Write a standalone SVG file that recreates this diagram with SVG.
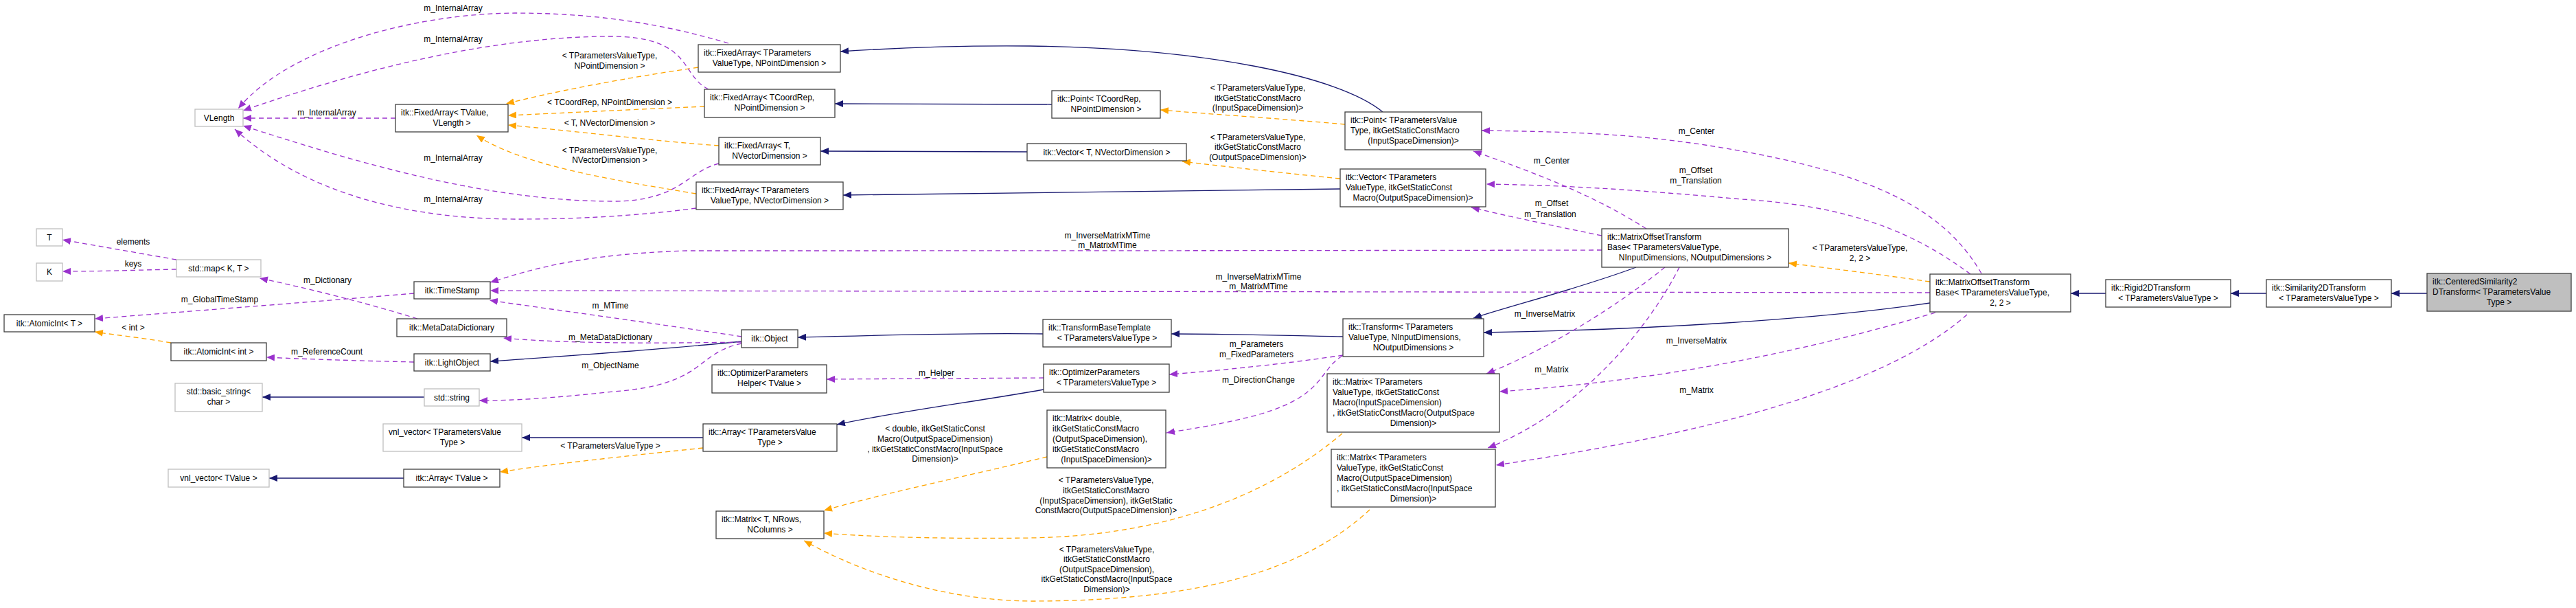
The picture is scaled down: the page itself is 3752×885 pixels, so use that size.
<svg xmlns="http://www.w3.org/2000/svg" width="3752" height="885" viewBox="0 0 3752 885">
<style>
text{font-family:"Liberation Sans",Arial,sans-serif;font-size:12px;fill:#000}
.c{text-anchor:middle}
.nd{fill:#fff;stroke:#404040;stroke-width:1.3}
.ug{fill:#fff;stroke:#bfbfbf;stroke-width:1.3}
.me{fill:#bfbfbf;stroke:#404040;stroke-width:1.3}
.inh{fill:none;stroke:#191970;stroke-width:1.3}
.tpl{fill:none;stroke:#ffa500;stroke-width:1.3;stroke-dasharray:7,5}
.use{fill:none;stroke:#9a32cd;stroke-width:1.3;stroke-dasharray:7,5}
.inh{marker-end:url(#aN)}
.tpl{marker-end:url(#aO)}
.use{marker-end:url(#aP)}
</style>
<defs>
<marker id="aN" markerUnits="userSpaceOnUse" markerWidth="12" markerHeight="10" refX="12" refY="5" orient="auto"><path d="M0,0 L12,5 L0,10 z" fill="#191970"/></marker>
<marker id="aO" markerUnits="userSpaceOnUse" markerWidth="12" markerHeight="10" refX="12" refY="5" orient="auto"><path d="M0,0 L12,5 L0,10 z" fill="#ffa500"/></marker>
<marker id="aP" markerUnits="userSpaceOnUse" markerWidth="12" markerHeight="10" refX="12" refY="5" orient="auto"><path d="M0,0 L12,5 L0,10 z" fill="#9a32cd"/></marker>
</defs>
<rect width="3752" height="885" fill="#fff"/>
<g id="connectors">
<path class="inh" d="M3535,427 L3483,427"/>
<path class="inh" d="M3301,427 L3249,427"/>
<path class="inh" d="M3067,427 L3016,427"/>
<path class="inh" d="M2811,441 C2650,465 2400,480 2161,484"/>
<path class="inh" d="M2383,389 C2300,420 2200,445 2146,463"/>
<path class="inh" d="M1956,490 C1850,488 1780,486 1706,486"/>
<path class="inh" d="M1519,486 C1400,484 1250,489 1162,491"/>
<path class="inh" d="M1080,497 C950,510 800,520 714,526"/>
<path class="inh" d="M1520,567 C1420,585 1300,600 1219,618"/>
<path class="inh" d="M1024,637 L760,637"/>
<path class="inh" d="M588,696 L392,696"/>
<path class="inh" d="M618,578 L382,578"/>
<path class="inh" d="M2014,163 C1950,110 1750,70 1500,67 C1400,66 1300,70 1224,75"/>
<path class="inh" d="M1532,152 C1400,151 1300,151 1216,151"/>
<path class="inh" d="M1496,221 C1400,221 1300,220 1195,220"/>
<path class="inh" d="M1952,275 C1700,278 1450,280 1228,284"/>
<path class="tpl" d="M1017,98 C900,115 800,135 737,151"/>
<path class="tpl" d="M1026,155 C930,159 830,164 740,168"/>
<path class="tpl" d="M1047,212 C950,205 830,190 740,182"/>
<path class="tpl" d="M1014,282 C880,260 760,240 694,197"/>
<path class="tpl" d="M1959,181 C1870,173 1760,166 1690,160"/>
<path class="tpl" d="M1952,260 C1870,252 1790,243 1722,235"/>
<path class="tpl" d="M2811,410 C2740,400 2670,391 2605,383"/>
<path class="tpl" d="M249,499 C210,492 170,488 138,483"/>
<path class="tpl" d="M1024,652 C900,665 800,676 728,687"/>
<path class="tpl" d="M1525,665 C1420,690 1280,720 1200,743"/>
<path class="tpl" d="M1955,631 C1850,720 1700,780 1500,783 C1350,785 1250,780 1200,776"/>
<path class="tpl" d="M1995,742 C1900,830 1750,875 1500,875 C1350,873 1230,820 1171,787"/>
<path class="use" d="M1061,63 C950,30 850,19 750,19 C600,20 420,70 347,158"/>
<path class="use" d="M1032,130 C990,110 1010,53 889,53 C700,53 500,110 354,161"/>
<path class="use" d="M576,172 L354,172"/>
<path class="use" d="M1047,238 C1000,250 990,293 893,293 C700,293 500,230 354,183"/>
<path class="use" d="M1014,303 C900,318 800,319 750,319 C550,318 420,260 342,188"/>
<path class="use" d="M257,378 L91,349"/>
<path class="use" d="M257,392 C200,393 150,395 91,395"/>
<path class="use" d="M608,464 C530,440 450,420 378,405"/>
<path class="use" d="M603,427 C450,440 250,455 138,464"/>
<path class="use" d="M603,527 C520,525 450,523 388,520"/>
<path class="use" d="M1080,490 C950,470 800,450 713,437"/>
<path class="use" d="M1080,498 C950,500 820,500 733,492"/>
<path class="use" d="M1080,500 C1010,515 1030,560 893,570 C800,580 750,583 698,583"/>
<path class="use" d="M1520,550 L1204,552"/>
<path class="use" d="M1956,517 C1870,530 1770,540 1703,545"/>
<path class="use" d="M1955,518 C1920,540 1930,575 1835,603 C1780,618 1730,625 1699,630"/>
<path class="use" d="M2333,364 C1800,365 1300,365 1000,365 C850,370 780,390 714,411"/>
<path class="use" d="M2811,426 L714,423"/>
<path class="use" d="M2398,333 C2330,290 2260,260 2146,220"/>
<path class="use" d="M2333,343 C2270,330 2220,320 2143,302"/>
<path class="use" d="M2886,398 C2840,320 2760,260 2537,220 C2400,195 2300,192 2158,190"/>
<path class="use" d="M2870,399 C2790,340 2700,300 2537,290 C2400,278 2300,270 2165,268"/>
<path class="use" d="M2425,389 C2350,450 2250,510 2165,544"/>
<path class="use" d="M2446,389 C2400,480 2300,600 2167,652"/>
<path class="use" d="M2819,455 C2600,520 2400,555 2184,570"/>
<path class="use" d="M2865,458 C2750,560 2500,630 2179,677"/>
</g>
<g id="labels">
<text class="c" x="660" y="16">m_InternalArray</text>
<text class="c" x="660" y="61">m_InternalArray</text>
<text class="c" x="476" y="168">m_InternalArray</text>
<text class="c" x="660" y="234">m_InternalArray</text>
<text class="c" x="660" y="294">m_InternalArray</text>
<text class="c" x="194" y="356">elements</text>
<text class="c" x="194" y="388">keys</text>
<text class="c" x="477" y="412">m_Dictionary</text>
<text class="c" x="320" y="440">m_GlobalTimeStamp</text>
<text class="c" x="194" y="481">&lt; int &gt;</text>
<text class="c" x="476" y="516">m_ReferenceCount</text>
<text class="c" x="889" y="449">m_MTime</text>
<text class="c" x="889" y="495">m_MetaDataDictionary</text>
<text class="c" x="889" y="536">m_ObjectName</text>
<text class="c" x="1364" y="547">m_Helper</text>
<text class="c" x="889" y="653">&lt; TParametersValueType &gt;</text>
<text class="c" x="888" y="85">&lt; TParametersValueType,</text>
<text class="c" x="888" y="100">NPointDimension &gt;</text>
<text class="c" x="888" y="153">&lt; TCoordRep, NPointDimension &gt;</text>
<text class="c" x="888" y="183">&lt; T, NVectorDimension &gt;</text>
<text class="c" x="888" y="223">&lt; TParametersValueType,</text>
<text class="c" x="888" y="237">NVectorDimension &gt;</text>
<text class="c" x="1362" y="628">&lt; double, itkGetStaticConst</text>
<text class="c" x="1362" y="643">Macro(OutputSpaceDimension)</text>
<text class="c" x="1362" y="658">, itkGetStaticConstMacro(InputSpace</text>
<text class="c" x="1362" y="672">Dimension)&gt;</text>
<text class="c" x="1611" y="703">&lt; TParametersValueType,</text>
<text class="c" x="1611" y="718">itkGetStaticConstMacro</text>
<text class="c" x="1611" y="733">(InputSpaceDimension), itkGetStatic</text>
<text class="c" x="1611" y="747">ConstMacro(OutputSpaceDimension)&gt;</text>
<text class="c" x="1612" y="804">&lt; TParametersValueType,</text>
<text class="c" x="1612" y="818">itkGetStaticConstMacro</text>
<text class="c" x="1612" y="833">(OutputSpaceDimension),</text>
<text class="c" x="1612" y="847">itkGetStaticConstMacro(InputSpace</text>
<text class="c" x="1612" y="862">Dimension)&gt;</text>
<text class="c" x="1830" y="505">m_Parameters</text>
<text class="c" x="1830" y="520">m_FixedParameters</text>
<text class="c" x="1833" y="557">m_DirectionChange</text>
<text class="c" x="1832" y="132">&lt; TParametersValueType,</text>
<text class="c" x="1832" y="147">itkGetStaticConstMacro</text>
<text class="c" x="1832" y="161">(InputSpaceDimension)&gt;</text>
<text class="c" x="1832" y="204">&lt; TParametersValueType,</text>
<text class="c" x="1832" y="218">itkGetStaticConstMacro</text>
<text class="c" x="1832" y="233">(OutputSpaceDimension)&gt;</text>
<text class="c" x="1613" y="347">m_InverseMatrixMTime</text>
<text class="c" x="1613" y="361">m_MatrixMTime</text>
<text class="c" x="1833" y="407">m_InverseMatrixMTime</text>
<text class="c" x="1833" y="421">m_MatrixMTime</text>
<text class="c" x="2471" y="195">m_Center</text>
<text class="c" x="2260" y="238">m_Center</text>
<text class="c" x="2260" y="300">m_Offset</text>
<text class="c" x="2258" y="316">m_Translation</text>
<text class="c" x="2470" y="252">m_Offset</text>
<text class="c" x="2470" y="267">m_Translation</text>
<text class="c" x="2709" y="365">&lt; TParametersValueType,</text>
<text class="c" x="2709" y="380">2, 2 &gt;</text>
<text class="c" x="2250" y="461">m_InverseMatrix</text>
<text class="c" x="2260" y="542">m_Matrix</text>
<text class="c" x="2471" y="500">m_InverseMatrix</text>
<text class="c" x="2471" y="572">m_Matrix</text>
</g>
<g id="n1"><rect class="ug" x="284" y="159" width="70" height="25"/><text class="c" x="319" y="176">VLength</text></g>
<g id="n2"><rect class="nd" x="576" y="152" width="164" height="40"/><text x="584" y="168">itk::FixedArray&lt; TValue,</text><text class="c" x="658" y="183">VLength &gt;</text></g>
<g id="n3"><rect class="ug" x="53" y="333" width="38" height="25"/><text class="c" x="72" y="350">T</text></g>
<g id="n4"><rect class="ug" x="53" y="383" width="38" height="26"/><text class="c" x="72" y="400">K</text></g>
<g id="n5"><rect class="ug" x="257" y="378" width="123" height="25"/><text class="c" x="318.5" y="395">std::map&lt; K, T &gt;</text></g>
<g id="n6"><rect class="nd" x="603" y="410" width="111" height="25"/><text class="c" x="658.5" y="427">itk::TimeStamp</text></g>
<g id="n7"><rect class="nd" x="6" y="458" width="132" height="25"/><text class="c" x="72" y="475">itk::AtomicInt&lt; T &gt;</text></g>
<g id="n8"><rect class="nd" x="578" y="464" width="160" height="26"/><text class="c" x="658" y="481">itk::MetaDataDictionary</text></g>
<g id="n9"><rect class="nd" x="249" y="499" width="139" height="26"/><text class="c" x="318.5" y="516">itk::AtomicInt&lt; int &gt;</text></g>
<g id="n10"><rect class="nd" x="603" y="515" width="111" height="25"/><text class="c" x="658.5" y="532">itk::LightObject</text></g>
<g id="n11"><rect class="ug" x="255" y="558" width="127" height="41"/><text class="c" x="318.5" y="574">std::basic_string&lt;</text><text class="c" x="318.5" y="589">char &gt;</text></g>
<g id="n12"><rect class="ug" x="618" y="566" width="80" height="25"/><text class="c" x="658" y="583">std::string</text></g>
<g id="n13"><rect class="ug" x="558" y="617" width="202" height="40"/><text x="566" y="633">vnl_vector&lt; TParametersValue</text><text class="c" x="659" y="648">Type &gt;</text></g>
<g id="n14"><rect class="ug" x="245" y="683" width="147" height="26"/><text class="c" x="318.5" y="700">vnl_vector&lt; TValue &gt;</text></g>
<g id="n15"><rect class="nd" x="588" y="683" width="140" height="26"/><text class="c" x="658" y="700">itk::Array&lt; TValue &gt;</text></g>
<g id="n16"><rect class="nd" x="1017" y="65" width="207" height="40"/><text x="1025" y="81">itk::FixedArray&lt; TParameters</text><text class="c" x="1120.5" y="96">ValueType, NPointDimension &gt;</text></g>
<g id="n17"><rect class="nd" x="1026" y="130" width="190" height="41"/><text x="1034" y="146">itk::FixedArray&lt; TCoordRep,</text><text class="c" x="1121" y="161">NPointDimension &gt;</text></g>
<g id="n18"><rect class="nd" x="1047" y="200" width="148" height="40"/><text x="1055" y="216">itk::FixedArray&lt; T,</text><text class="c" x="1121" y="231">NVectorDimension &gt;</text></g>
<g id="n19"><rect class="nd" x="1014" y="265" width="214" height="40"/><text x="1022" y="281">itk::FixedArray&lt; TParameters</text><text class="c" x="1121" y="296">ValueType, NVectorDimension &gt;</text></g>
<g id="n20"><rect class="nd" x="1080" y="480" width="82" height="26"/><text class="c" x="1121" y="497">itk::Object</text></g>
<g id="n21"><rect class="nd" x="1037" y="531" width="167" height="41"/><text x="1045" y="547">itk::OptimizerParameters</text><text class="c" x="1120.5" y="562">Helper&lt; TValue &gt;</text></g>
<g id="n22"><rect class="nd" x="1024" y="617" width="195" height="40"/><text x="1032" y="633">itk::Array&lt; TParametersValue</text><text class="c" x="1121.5" y="648">Type &gt;</text></g>
<g id="n23"><rect class="nd" x="1043" y="744" width="157" height="40"/><text x="1051" y="760">itk::Matrix&lt; T, NRows,</text><text class="c" x="1121.5" y="775">NColumns &gt;</text></g>
<g id="n24"><rect class="nd" x="1532" y="132" width="158" height="40"/><text x="1540" y="148">itk::Point&lt; TCoordRep,</text><text class="c" x="1611" y="163">NPointDimension &gt;</text></g>
<g id="n25"><rect class="nd" x="1496" y="209" width="232" height="25"/><text class="c" x="1612" y="226">itk::Vector&lt; T, NVectorDimension &gt;</text></g>
<g id="n26"><rect class="nd" x="1959" y="163" width="199" height="55"/><text x="1967" y="179">itk::Point&lt; TParametersValue</text><text x="1967" y="194">Type, itkGetStaticConstMacro</text><text class="c" x="2058.5" y="209">(InputSpaceDimension)&gt;</text></g>
<g id="n27"><rect class="nd" x="1952" y="246" width="212" height="55"/><text x="1960" y="262">itk::Vector&lt; TParameters</text><text x="1960" y="277">ValueType, itkGetStaticConst</text><text class="c" x="2058" y="292">Macro(OutputSpaceDimension)&gt;</text></g>
<g id="n28"><rect class="nd" x="1519" y="465" width="187" height="40"/><text x="1527" y="481">itk::TransformBaseTemplate</text><text class="c" x="1612.5" y="496">&lt; TParametersValueType &gt;</text></g>
<g id="n29"><rect class="nd" x="1956" y="464" width="205" height="55"/><text x="1964" y="480">itk::Transform&lt; TParameters</text><text x="1964" y="495">ValueType, NInputDimensions,</text><text class="c" x="2058.5" y="510">NOutputDimensions &gt;</text></g>
<g id="n30"><rect class="nd" x="1520" y="530" width="183" height="41"/><text x="1528" y="546">itk::OptimizerParameters</text><text class="c" x="1611.5" y="561">&lt; TParametersValueType &gt;</text></g>
<g id="n31"><rect class="nd" x="1525" y="597" width="173" height="84"/><text x="1533" y="613">itk::Matrix&lt; double,</text><text x="1533" y="628"> itkGetStaticConstMacro</text><text x="1533" y="643">(OutputSpaceDimension),</text><text x="1533" y="658"> itkGetStaticConstMacro</text><text class="c" x="1611.5" y="673">(InputSpaceDimension)&gt;</text></g>
<g id="n32"><rect class="nd" x="1933" y="544" width="251" height="85"/><text x="1941" y="560">itk::Matrix&lt; TParameters</text><text x="1941" y="575">ValueType, itkGetStaticConst</text><text x="1941" y="590">Macro(InputSpaceDimension)</text><text x="1941" y="605">, itkGetStaticConstMacro(OutputSpace</text><text class="c" x="2058.5" y="620">Dimension)&gt;</text></g>
<g id="n33"><rect class="nd" x="1939" y="654" width="239" height="84"/><text x="1947" y="670">itk::Matrix&lt; TParameters</text><text x="1947" y="685">ValueType, itkGetStaticConst</text><text x="1947" y="700">Macro(OutputSpaceDimension)</text><text x="1947" y="715">, itkGetStaticConstMacro(InputSpace</text><text class="c" x="2058.5" y="730">Dimension)&gt;</text></g>
<g id="n34"><rect class="nd" x="2333" y="333" width="272" height="56"/><text x="2341" y="349">itk::MatrixOffsetTransform</text><text x="2341" y="364">Base&lt; TParametersValueType,</text><text class="c" x="2469" y="379"> NInputDimensions, NOutputDimensions &gt;</text></g>
<g id="n35"><rect class="nd" x="2811" y="399" width="205" height="55"/><text x="2819" y="415">itk::MatrixOffsetTransform</text><text x="2819" y="430">Base&lt; TParametersValueType,</text><text class="c" x="2913.5" y="445">2, 2 &gt;</text></g>
<g id="n36"><rect class="nd" x="3067" y="407" width="182" height="40"/><text x="3075" y="423">itk::Rigid2DTransform</text><text class="c" x="3158" y="438">&lt; TParametersValueType &gt;</text></g>
<g id="n37"><rect class="nd" x="3301" y="407" width="182" height="40"/><text x="3309" y="423">itk::Similarity2DTransform</text><text class="c" x="3392" y="438">&lt; TParametersValueType &gt;</text></g>
<g id="n38"><rect class="me" x="3535" y="398" width="210" height="55"/><text x="3543" y="414">itk::CenteredSimilarity2</text><text x="3543" y="429">DTransform&lt; TParametersValue</text><text class="c" x="3640" y="444">Type &gt;</text></g>
</svg>
